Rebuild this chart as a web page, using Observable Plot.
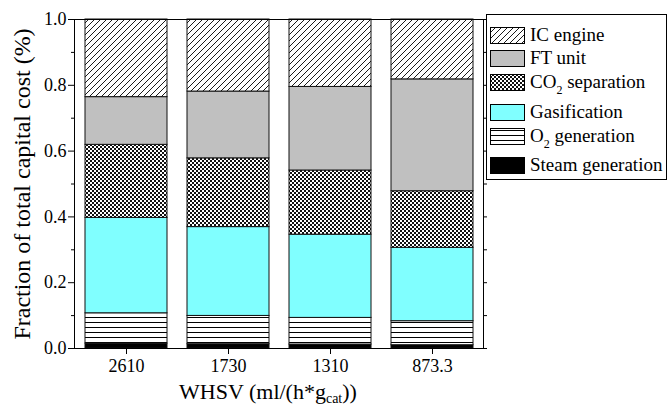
<!DOCTYPE html>
<html>
<head>
<meta charset="utf-8">
<script src="https://cdn.jsdelivr.net/npm/d3@7"></script>
<script src="https://cdn.jsdelivr.net/npm/@observablehq/plot@0.6"></script>
<style>
  body { margin: 0; background: #fff; }
  #wrap { position: relative; width: 669px; height: 406px; font-family: "Liberation Serif", "Times New Roman", serif; }
  #legend { position: absolute; left: 486px; top: 14px; width: 179px; height: 164px; border: 1px solid #000; background: #fff; }
  .row { position: absolute; left: 3px; height: 18px; display: flex; align-items: center; font-size: 19px; color: #000; white-space: nowrap; }
  .row svg { margin-right: 5px; flex: none; }
  .row sub { font-size: 12px; vertical-align: -6px; line-height: 0; }
</style>
</head>
<body>
<div id="wrap"><div id="legend"></div></div>
<script>
// WHSV categories along the x axis
const whsv = ["2610", "1730", "1310", "873.3"];

// Cost components, stacked from the bottom up
const series = ["Steam generation", "O2 generation", "Gasification", "CO2 separation", "FT unit", "IC engine"];

// Fraction of total capital cost for each component, per WHSV
const steamGeneration = [0.015, 0.013, 0.012, 0.010];
const o2Generation    = [0.092, 0.086, 0.081, 0.073];
const gasification    = [0.290, 0.270, 0.253, 0.223];
const co2Separation   = [0.222, 0.209, 0.195, 0.172];
const ftUnit          = [0.145, 0.203, 0.254, 0.340];
const icEngine        = [0.236, 0.219, 0.205, 0.182];

const yMajor = [0, 0.2, 0.4, 0.6, 0.8, 1.0];
const yMinor = [0.1, 0.3, 0.5, 0.7, 0.9];

const valuesBySeries = [steamGeneration, o2Generation, gasification, co2Separation, ftUnit, icEngine];
const table = [];
whsv.forEach((w, i) => {
  series.forEach((s, j) => table.push({whsv: w, series: s, value: valuesBySeries[j][i]}));
});

// Fill (colour or pattern) for each component
const fillOf = new Map([
  ["Steam generation", "#000000"],
  ["O2 generation", "url(#pat-hlines)"],
  ["Gasification", "#80ffff"],
  ["CO2 separation", "url(#pat-checker)"],
  ["FT unit", "#c0c0c0"],
  ["IC engine", "url(#pat-diag)"]
]);

const font = '"Liberation Serif", "Times New Roman", serif';

const chart = Plot.plot({
  width: 669,
  height: 406,
  marginLeft: 74,
  marginRight: 186,
  marginTop: 19,
  marginBottom: 58,
  style: {fontFamily: font, fontSize: "18px", color: "#000", background: "transparent", overflow: "visible"},
  x: {type: "band", domain: whsv, paddingInner: 0.2, paddingOuter: 0.1},
  y: {domain: [0, 1]},
  marks: [
    Plot.barY(table, Plot.stackY({
      x: "whsv", y: "value", z: "series",
      fill: d => fillOf.get(d.series),
      stroke: "#111", strokeWidth: 1
    })),
    Plot.frame({stroke: "#000"}),
    Plot.axisY({ticks: yMajor, tickFormat: d3.format(".1f"), tickSize: 6, tickPadding: 2, label: null}),
    Plot.axisY({ticks: yMinor, tickFormat: () => "", tickSize: 3, label: null}),
    Plot.axisY({anchor: "right", ticks: [...yMajor, ...yMinor], tickFormat: () => "", tickSize: 3, label: null}),
    Plot.axisX({tickSize: 6, tickPadding: 5, label: null})
  ]
});

// Fill patterns for the hatched components
const svg = d3.select(chart);
svg.style("font-family", font);
const defs = svg.insert("defs", ":first-child");

const diag = defs.append("pattern").attr("id", "pat-diag")
  .attr("patternUnits", "userSpaceOnUse").attr("width", 6).attr("height", 6);
diag.append("rect").attr("width", 6).attr("height", 6).attr("fill", "#fff");
diag.append("path").attr("d", "M0,6 L6,0 M-1,1 L1,-1 M5,7 L7,5")
  .attr("stroke", "#000").attr("stroke-width", 0.9);

const checker = defs.append("pattern").attr("id", "pat-checker")
  .attr("patternUnits", "userSpaceOnUse").attr("width", 4).attr("height", 4);
checker.append("rect").attr("width", 4).attr("height", 4).attr("fill", "#111");
checker.append("rect").attr("width", 2).attr("height", 2).attr("fill", "#fff");
checker.append("rect").attr("x", 2).attr("y", 2).attr("width", 2).attr("height", 2).attr("fill", "#fff");

const hlines = defs.append("pattern").attr("id", "pat-hlines")
  .attr("patternUnits", "userSpaceOnUse").attr("width", 5).attr("height", 5);
hlines.append("rect").attr("width", 5).attr("height", 5).attr("fill", "#fff");
hlines.append("rect").attr("y", 2).attr("width", 5).attr("height", 1).attr("fill", "#000");

// Axis titles
svg.append("text")
  .attr("transform", "translate(30,184) rotate(-90)")
  .attr("text-anchor", "middle")
  .attr("font-size", 24)
  .attr("fill", "#000")
  .text("Fraction of total capital cost (%)");

const xt = svg.append("text")
  .attr("x", 268).attr("y", 399)
  .attr("text-anchor", "middle")
  .attr("font-size", 22)
  .attr("fill", "#000");
xt.append("tspan").text("WHSV (ml/(h*g");
xt.append("tspan").attr("font-size", 14).attr("dy", 4).text("cat");
xt.append("tspan").attr("dy", -4).text("))");

const wrap = document.getElementById("wrap");
wrap.insertBefore(chart, wrap.firstChild);

// Legend, top to bottom
const legendRows = [
  {key: "IC engine", label: "IC engine", top: 11},
  {key: "FT unit", label: "FT unit", top: 34},
  {key: "CO2 separation", label: "CO<sub>2</sub> separation", top: 58},
  {key: "Gasification", label: "Gasification", top: 88},
  {key: "O2 generation", label: "O<sub>2</sub> generation", top: 112},
  {key: "Steam generation", label: "Steam generation", top: 141}
];
const legend = document.getElementById("legend");
for (const r of legendRows) {
  const row = document.createElement("div");
  row.className = "row";
  row.style.top = r.top + "px";
  row.innerHTML = `<svg width="35" height="17"><rect x="0.5" y="0.5" width="34" height="16" fill="${fillOf.get(r.key)}" stroke="#000"/></svg><span>${r.label}</span>`;
  legend.appendChild(row);
}
</script>
</body>
</html>
